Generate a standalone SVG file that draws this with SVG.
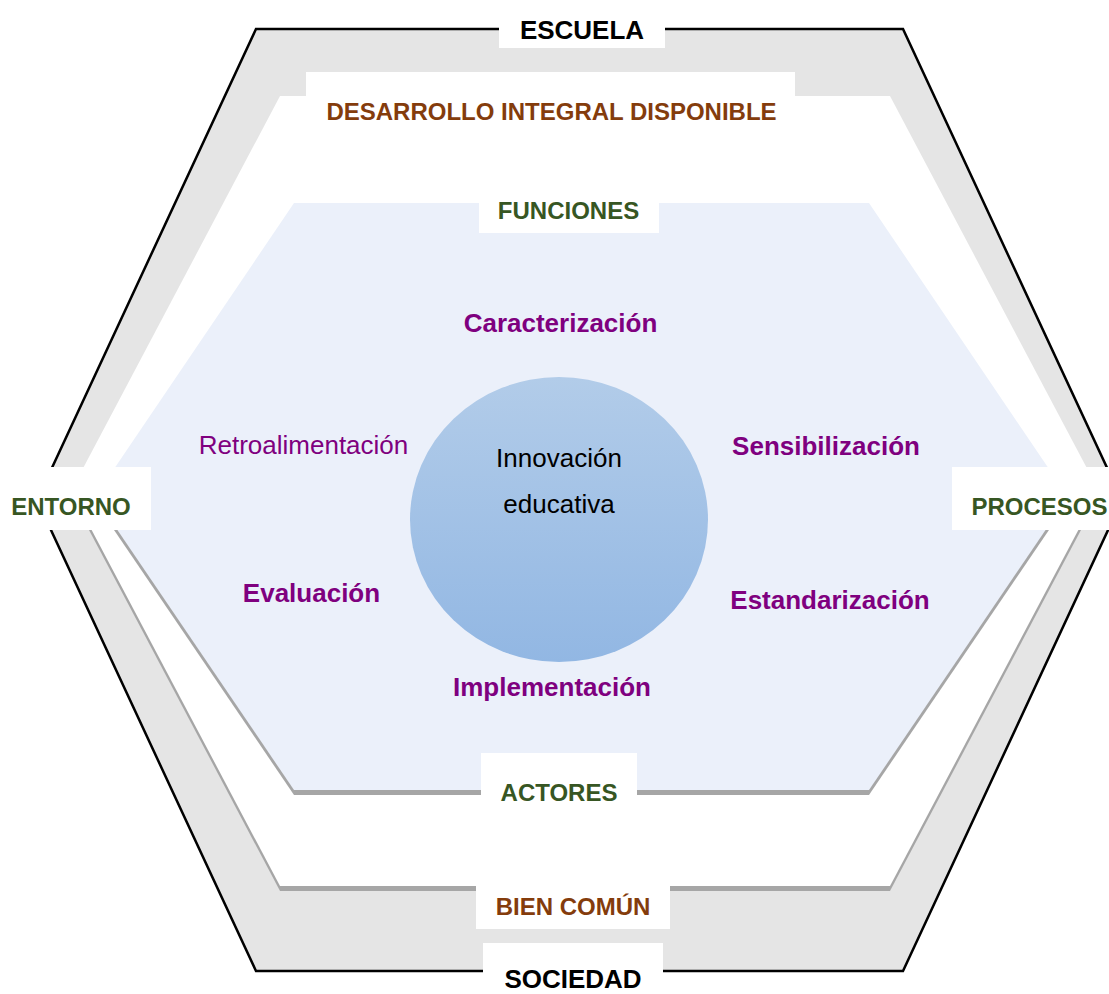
<svg xmlns="http://www.w3.org/2000/svg" xmlns:xlink="http://www.w3.org/1999/xlink" width="1109" height="994" viewBox="0 0 1109 994">
<defs>
<linearGradient id="cg" x1="0" y1="0" x2="0" y2="1">
<stop offset="0" stop-color="#b2cce9"/>
<stop offset="1" stop-color="#92b7e3"/>
</linearGradient>
<polygon id="whiteHex" points="280,96 890,96 1099,491 890,886 280,886 71,491"/>
<polygon id="blueHex" points="294,203 869,203 1068,497 869,790 294,790 95,497"/>
</defs>
<style>
.box{fill:#ffffff;}
.t{font-family:"Liberation Sans",Arial,sans-serif;font-weight:bold;text-anchor:middle;}
.s24{font-size:24px;}
.s26{font-size:26px;}
.blk{fill:#000000;}
.brn{fill:#843c0c;}
.grn{fill:#375623;}
.pur{fill:#7f007f;}
.shadow{fill:#a6a6a6;}
</style>
<rect width="1109" height="994" fill="#ffffff"/>
<g id="outer-hexagon">
<polygon points="256,29 903,29 1122,500 903,971 256,971 37,500" fill="#e5e5e5" stroke="#000000" stroke-width="2.5" stroke-linejoin="miter"/>
</g>
<g id="white-hexagon">
<use xlink:href="#whiteHex" class="shadow" transform="translate(0,5)"/>
<use xlink:href="#whiteHex" fill="#ffffff"/>
</g>
<g id="blue-hexagon">
<use xlink:href="#blueHex" class="shadow" transform="translate(0,5)"/>
<use xlink:href="#blueHex" fill="#ebf0fa"/>
</g>
<g id="center-circle">
<ellipse cx="559" cy="519.5" rx="149" ry="142.5" fill="url(#cg)"/>
<text x="559" y="467" class="t s26 blk" style="font-weight:normal">Innovación</text>
<text x="559" y="513" class="t s26 blk" style="font-weight:normal">educativa</text>
</g>
<g id="connectors"></g>
<g id="label-escuela">
<rect class="box" x="499" y="8" width="166" height="40"/>
<text x="582" y="38.5" class="t s26 blk">ESCUELA</text>
</g>
<g id="label-desarrollo">
<rect class="box" x="306" y="72" width="489" height="64"/>
<text x="551.5" y="120" class="t s24 brn">DESARROLLO INTEGRAL DISPONIBLE</text>
</g>
<g id="label-funciones">
<rect class="box" x="479" y="185" width="180" height="48"/>
<text x="568.5" y="218.5" class="t s24 grn">FUNCIONES</text>
</g>
<g id="label-entorno">
<rect class="box" x="0" y="467" width="151" height="63"/>
<text x="71" y="514.5" class="t s24 grn">ENTORNO</text>
</g>
<g id="label-procesos">
<rect class="box" x="952" y="467" width="157" height="63"/>
<text x="1039.5" y="514.5" class="t s24 grn">PROCESOS</text>
</g>
<g id="label-actores">
<rect class="box" x="481" y="753" width="156" height="67"/>
<text x="559" y="801" class="t s24 grn">ACTORES</text>
</g>
<g id="label-bien-comun">
<rect class="box" x="476" y="860" width="194" height="69"/>
<text x="573" y="915" class="t s24 brn">BIEN COMÚN</text>
</g>
<g id="label-sociedad">
<rect class="box" x="483" y="943" width="180" height="51"/>
<text x="573" y="988" class="t s26 blk">SOCIEDAD</text>
</g>
<g id="stage-caracterizacion">
<text x="560.5" y="332" class="t s26 pur">Caracterización</text>
</g>
<g id="stage-sensibilizacion">
<text x="826" y="455" class="t s26 pur">Sensibilización</text>
</g>
<g id="stage-estandarizacion">
<text x="830" y="609" class="t s26 pur">Estandarización</text>
</g>
<g id="stage-implementacion">
<text x="552" y="696" class="t s26 pur">Implementación</text>
</g>
<g id="stage-evaluacion">
<text x="311.5" y="602" class="t s26 pur">Evaluación</text>
</g>
<g id="stage-retroalimentacion">
<text x="303.5" y="454" class="t s26 pur" style="font-weight:normal">Retroalimentación</text>
</g>
</svg>
